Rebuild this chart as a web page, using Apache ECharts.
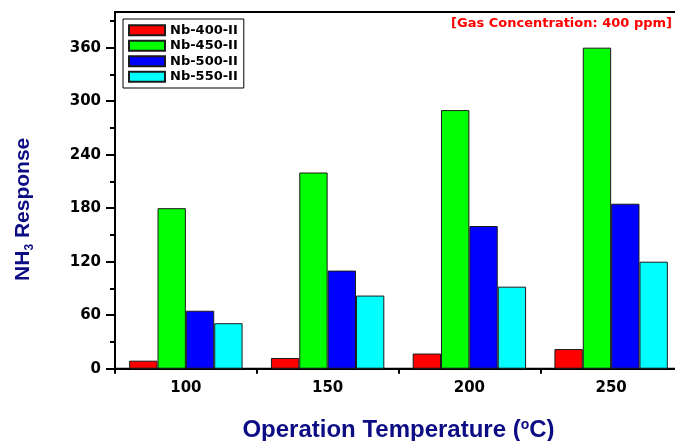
<!DOCTYPE html>
<html>
	<head>
		<meta charset="utf-8">
		<title>nh3</title>
		<script src="https://cdn.jsdelivr.net/npm/echarts@6/dist/echarts.min.js"></script>
	</head>
	<body style="margin:0">
		<div id="box" style="width: 675px;height: 441px;"></div>
		<script>
			var mCharts = echarts.init(document.querySelector('#box'))

			// 温度
			var temps = ['100', '150', '200', '250']
			var names = ['Nb-400-II', 'Nb-450-II', 'Nb-500-II', 'Nb-550-II']
			var colors = ['#ff0000', '#00ff00', '#0000ff', '#00ffff']
			// 响应值
			var nb400 = [9, 12, 17, 22]
			var nb450 = [180, 220, 290, 360]
			var nb500 = [65, 110, 160, 185]
			var nb550 = [51, 82, 92, 120]
			var yTicks = [0, 60, 120, 180, 240, 300, 360]
			var yMinor = [30, 90, 150, 210, 270, 330, 390]

			var allData = [nb400, nb450, nb500, nb550]
			var navy = '#0c0c84'
			var font = 'DejaVu Sans'

			var series = names.map(function(n, i) {
				return {
					name: n,
					type: 'bar',
					data: allData[i],
					barGap: '0%',
					barCategoryGap: '20%',
					itemStyle: {
						color: colors[i],
						borderColor: '#1a1a1a',
						borderWidth: 1
					}
				}
			})

			var option = {
				animation: false,
				title: {
					text: '[Gas Concentration: 400 ppm]',
					right: 3,
					top: 17,
					padding: 0,
					textStyle: { color: '#ff0000', fontFamily: font, fontWeight: 'bold', fontSize: 13 }
				},
				legend: {
					orient: 'vertical',
					left: 123,
					top: 19,
					icon: 'rect',
					itemWidth: 36,
					itemHeight: 10,
					itemGap: 1,
					padding: [4, 6, 4, 5],
					borderColor: '#000',
					borderWidth: 1,
					textStyle: { color: '#000', fontFamily: font, fontWeight: 'bold', fontSize: 13, lineHeight: 14.5 }
				},
				grid: {
					left: 115,
					top: 12,
					width: 567,
					height: 356.7,
					outerBoundsMode: 'none',
					show: true,
					borderColor: '#000',
					borderWidth: 2
				},
				xAxis: {
					type: 'category',
					data: temps,
					axisLine: { lineStyle: { color: '#000', width: 2 } },
					axisTick: { show: true, interval: 0, length: 5, lineStyle: { color: '#000', width: 2 } },
					axisLabel: { interval: 0, margin: 12, color: '#000', fontFamily: font, fontWeight: 'bold', fontSize: 15 },
					name: 'Operation Temperature ({sup|o}C)',
					nameLocation: 'middle',
					nameGap: 49,
					nameTextStyle: {
						color: navy, fontFamily: 'Liberation Sans', fontWeight: 'bold', fontSize: 24,
						rich: {
							sup: { color: navy, fontFamily: 'Liberation Sans', fontWeight: 'bold', fontSize: 14, verticalAlign: 'top', lineHeight: 26 }
						}
					}
				},
				yAxis: [
					{
						type: 'value',
						min: 0,
						max: 400,
						interval: 60,
						position: 'left',
						splitLine: { show: false },
						axisLine: { show: true, lineStyle: { color: '#000', width: 2 } },
						axisTick: { show: true, length: 9, customValues: yTicks, lineStyle: { color: '#000', width: 2 } },
						axisLabel: { margin: 14, customValues: yTicks, color: '#000', fontFamily: font, fontWeight: 'bold', fontSize: 15 },
						name: '{n|NH}{s|3}{n| Response}',
						nameLocation: 'middle',
						nameRotate: 90,
						nameGap: 79,
						nameTextStyle: {
							padding: [0, 38, 0, 0],
							rich: {
								n: { color: navy, fontFamily: 'Liberation Sans', fontWeight: 'bold', fontSize: 21, lineHeight: 26 },
								s: { color: navy, fontFamily: 'Liberation Sans', fontWeight: 'bold', fontSize: 12, verticalAlign: 'bottom', lineHeight: 12 }
							}
						}
					},
					{
						type: 'value',
						min: 0,
						max: 400,
						interval: 30,
						position: 'left',
						splitLine: { show: false },
						axisLine: { show: false },
						axisTick: { show: true, length: 5, customValues: yMinor, lineStyle: { color: '#000', width: 2 } },
						axisLabel: { show: false }
					}
				],
				series: series
			}
			mCharts.setOption(option)
		</script>
	</body>
</html>
